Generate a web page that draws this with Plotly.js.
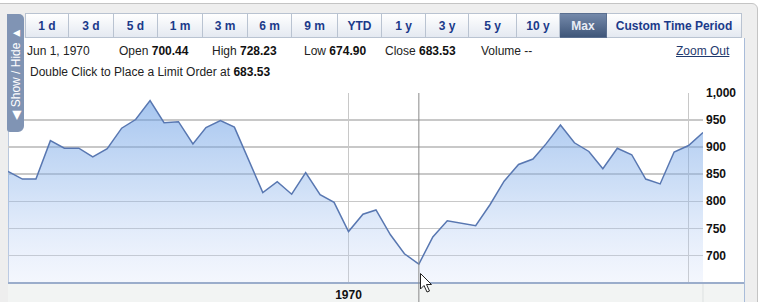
<!DOCTYPE html>
<html><head><meta charset="utf-8">
<script src="https://cdn.plot.ly/plotly-3.0.1.min.js"></script>
<style>
html,body{margin:0;padding:0;width:766px;height:302px;overflow:hidden;background:#fff;font-family:'Liberation Sans',Arial,sans-serif;}
.abs{position:absolute;}
#outer{left:-10px;top:3px;width:768px;height:330px;border:1px solid #c4c4c4;border-radius:6px;background:#eeeeee;box-sizing:border-box;}
#panel{left:8px;top:38px;width:737px;height:270px;background:#fff;border-left:1px solid #b9c7dc;border-right:1px solid #a9bcd9;box-sizing:border-box;}
#chart{left:0;top:0;width:766px;height:302px;}
.tab{position:absolute;top:13px;height:25px;box-sizing:border-box;border:1px solid #b9c3d1;border-left:none;background:linear-gradient(#ffffff,#e4e9f1);color:#1b3a8a;font-weight:bold;font-size:12px;line-height:24px;text-align:center;}
.tab.first{border-left:1px solid #b9c3d1;}
.tab.sel{background:linear-gradient(#7489aa,#3f5679);color:#e9edf5;border-color:#5a6f90;}
.info{position:absolute;font-size:12px;color:#222;white-space:nowrap;line-height:14px;}
.info b{color:#111;}
#showhide{left:7px;top:14px;width:17px;height:118px;background:#8094b4;border-radius:0 5px 6px 3px;z-index:5;}
#shtext{left:-50.5px;top:50.5px;width:118px;height:17px;transform:rotate(-90deg);color:#fff;font-size:12px;line-height:17px;text-align:center;white-space:nowrap;}
#cursor{left:419px;top:272px;z-index:6;}
</style></head>
<body>
<div id="outer" class="abs"></div>
<div id="panel" class="abs"></div>
<div id="chart" class="abs"></div>
<div id="tabs"></div>
<div id="showhide" class="abs"><div id="shtext" class="abs">◀ Show / Hide ▲</div></div>
<div class="info" style="left:27px;top:44px;">Jun 1, 1970</div>
<div class="info" style="left:119px;top:44px;">Open <b>700.44</b></div>
<div class="info" style="left:212px;top:44px;">High <b>728.23</b></div>
<div class="info" style="left:304px;top:44px;">Low <b>674.90</b></div>
<div class="info" style="left:385px;top:44px;">Close <b>683.53</b></div>
<div class="info" style="left:481px;top:44px;">Volume --</div>
<div class="info" style="left:676px;top:44px;color:#1f3a6e;text-decoration:underline;">Zoom Out</div>
<div class="info" style="left:30px;top:65px;">Double Click to Place a Limit Order at <b>683.53</b></div>
<svg id="cursor" class="abs" width="14" height="22" viewBox="0 0 14 22"><path d="M1.5 1.5 L1.5 17 L5 13.5 L8 20 L10.5 19 L7.5 12.5 L12.5 12.5 Z" fill="#fff" stroke="#222" stroke-width="1" stroke-linejoin="miter"/></svg>
<script>
// ---- data ----
const tabLabels = ['1 d','3 d','5 d','1 m','3 m','6 m','9 m','YTD','1 y','3 y','5 y','10 y','Max','Custom Time Period'];
const selectedTab = 'Max';
const dates = [
 '1968-01-01','1968-02-01','1968-03-01','1968-04-01','1968-05-01','1968-06-01','1968-07-01','1968-08-01','1968-09-01','1968-10-01','1968-11-01','1968-12-01',
 '1969-01-01','1969-02-01','1969-03-01','1969-04-01','1969-05-01','1969-06-01','1969-07-01','1969-08-01','1969-09-01','1969-10-01','1969-11-01','1969-12-01',
 '1970-01-01','1970-02-01','1970-03-01','1970-04-01','1970-05-01','1970-06-01','1970-07-01','1970-08-01','1970-09-01','1970-10-01','1970-11-01','1970-12-01',
 '1971-01-01','1971-02-01','1971-03-01','1971-04-01','1971-05-01','1971-06-01','1971-07-01','1971-08-01','1971-09-01','1971-10-01','1971-11-01','1971-12-01',
 '1972-01-01','1972-02-01'];
const closes = [
 855, 841, 841, 912, 898, 898, 882, 897, 935, 951, 986, 945,
 947, 906, 936, 949, 937, 877, 816, 836, 813, 853, 812, 798,
 744, 776, 784, 738, 703, 684, 734, 764, 760, 755, 794, 837,
 868, 878, 906, 941, 908, 892, 860, 898, 886, 841, 832, 891,
 903, 927];
const crosshairDate = '1970-06-01';
const xTickVals = ['1970-01-01','1972-01-01'];
const xTickText = ['1970',''];
const yTickVals = [700, 750, 800, 850, 900, 950, 1000];
const yRange = [649, 1000];

// ---- tabs ----
const tabEdges = [25,69,114,158,203,248,292,338,382,426,469,517,560,607,742];
const tabsDiv = document.getElementById('tabs');
tabLabels.forEach((t,i)=>{
  const d = document.createElement('div');
  d.className = 'tab' + (i===0?' first':'') + (t===selectedTab?' sel':'');
  d.style.left = tabEdges[i]+'px';
  d.style.width = (tabEdges[i+1]-tabEdges[i])+'px';
  d.textContent = t;
  tabsDiv.appendChild(d);
});

// ---- chart ----
const font = {family:"'Liberation Sans', Arial, sans-serif", size:12, color:'#111', weight:'bold'};
const trace = {
  x: dates, y: closes, type:'scatter', mode:'lines',
  line:{color:'#5877b1', width:1.5},
  fill:'tozeroy',
  fillgradient:{type:'vertical', start:yRange[0], stop:yRange[1],
    colorscale:[[0,'rgba(205,218,248,0.22)'],[0.5,'rgba(140,180,235,0.42)'],[1,'rgba(85,145,225,0.55)']]},
  hoverinfo:'skip'
};
const plotW = 766-8-63, plotH = 302-93-19;
const rightEdge = (744-8)/plotW;
const bottomEdge = -19/plotH;
const layout = {
  width:766, height:302,
  margin:{l:8, r:63, t:93, b:19, pad:0},
  paper_bgcolor:'rgba(0,0,0,0)', plot_bgcolor:'rgba(0,0,0,0)',
  showlegend:false,
  xaxis:{type:'date', range:[dates[0], dates[dates.length-1]], tickmode:'array', tickvals:xTickVals, ticktext:xTickText,
    showgrid:true, gridcolor:'#c8c8c8', gridwidth:1.5, zeroline:false, showline:false, ticks:'', tickfont:font, ticklabelstandoff:3, fixedrange:true},
  yaxis:{side:'right', range:yRange, tickmode:'array', tickvals:yTickVals, tickformat:',d',
    showgrid:true, gridcolor:'#c8c8c8', gridwidth:1.5, zeroline:false, showline:false, ticks:'', tickfont:font, ticklabelstandoff:2, fixedrange:true},
  shapes:[
    {type:'rect', xref:'paper', yref:'paper', x0:0, x1:rightEdge, y0:bottomEdge, y1:0, fillcolor:'#f2f4f3', line:{width:0}, layer:'below'},
    {type:'line', xref:'paper', yref:'paper', x0:1, x1:1, y0:bottomEdge, y1:0, line:{color:'#dde1e1', width:1}},
    {type:'line', xref:'paper', yref:'paper', x0:0, x1:rightEdge, y0:0, y1:0, line:{color:'#9badcb', width:2}},
    {type:'line', xref:'x', yref:'paper', x0:crosshairDate, x1:crosshairDate, y0:bottomEdge, y1:1, line:{color:'#8a8a8a', width:1}, layer:'above'}
  ]
};
Plotly.newPlot('chart', [trace], layout, {displayModeBar:false, staticPlot:true});
</script>
</body></html>
